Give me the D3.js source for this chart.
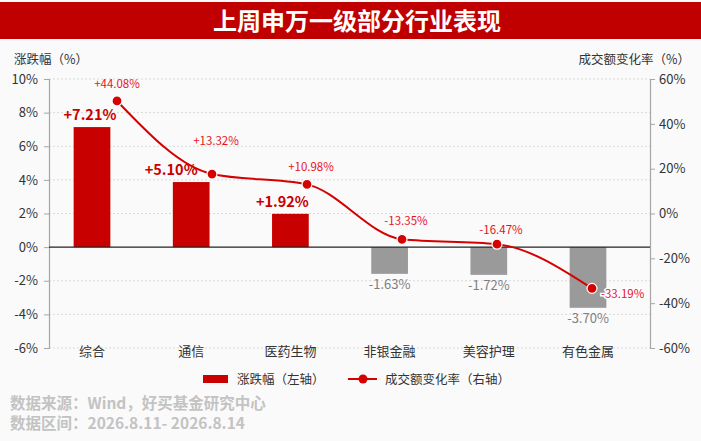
<!DOCTYPE html>
<html>
<head>
<meta charset="utf-8">
<script src="https://cdn.jsdelivr.net/npm/d3@7"></script>
<style>
  html, body { margin: 0; padding: 0; background: #fafafa; }
  svg { display: block; font-family: "Noto Sans CJK SC", "Noto Sans", sans-serif; }
</style>
</head>
<body>
<div id="chart"></div>
<script>
// 行业与数据
const categories = ["综合", "通信", "医药生物", "非银金融", "美容护理", "有色金属"];
const barValues = [7.14, 3.87, 1.98, -1.59, -1.65, -3.61];
const barLabels = ["+7.21%", "+5.10%", "+1.92%", "-1.63%", "-1.72%", "-3.70%"];
const rateValues = [50.2, 17.6, 13.0, -11.5, -13.7, -33.4];
const rateLabels = ["+44.08%", "+13.32%", "+10.98%", "-13.35%", "-16.47%", "-33.19%"];
const leftTicks = [-6, -4, -2, 0, 2, 4, 6, 8, 10];
const rightTicks = [-60, -40, -20, 0, 20, 40, 60];

// 尺寸
const width = 701, height = 441;
const plot = { left: 49, right: 650, top: 79, bottom: 348 };
const red = "#c80000";
const lineRed = "#d50000";
const gray = "#9a9a9a";

const svg = d3.select("#chart").append("svg")
  .attr("width", width)
  .attr("height", height);

svg.append("rect").attr("width", width).attr("height", height).attr("fill", "#fafafa");

// 标题栏
svg.append("rect")
  .attr("x", 0).attr("y", 2)
  .attr("width", width).attr("height", 37)
  .attr("fill", "#c00000");
svg.append("text")
  .attr("x", 357).attr("y", 30)
  .attr("text-anchor", "middle")
  .attr("fill", "#fff")
  .attr("font-size", 24)
  .attr("font-weight", 700)
  .text("上周申万一级部分行业表现");

// 比例尺
const x = d3.scaleBand().domain(categories).range([42.4, 637.6]).paddingInner(0.63).paddingOuter(0.315);
const xLine = d3.scalePoint().domain(categories).range([117, 592]);
const yL = d3.scaleLinear().domain([-6, 10]).range([plot.bottom, plot.top]);
const yR = d3.scaleLinear().domain([-60, 60]).range([plot.bottom, plot.top]);

// 网格线
svg.append("g")
  .selectAll("line")
  .data(leftTicks.filter(d => d !== 0))
  .enter().append("line")
  .attr("x1", plot.left).attr("x2", plot.right)
  .attr("y1", d => yL(d)).attr("y2", d => yL(d))
  .attr("stroke", "#d9d9d9")
  .attr("stroke-dasharray", "2,2");

// 左轴
const axisL = svg.append("g")
  .attr("transform", `translate(${plot.left},0)`)
  .call(d3.axisLeft(yL).tickValues(leftTicks).tickSize(5).tickPadding(6).tickFormat(d => d + "%"));
// 右轴
const axisR = svg.append("g")
  .attr("transform", `translate(${plot.right},0)`)
  .call(d3.axisRight(yR).tickValues(rightTicks).tickSize(5).tickPadding(4).tickFormat(d => d + "%"));

[axisL, axisR].forEach(a => {
  a.select(".domain").attr("stroke", "#a6a6a6").attr("stroke-width", 1.2);
  a.selectAll(".tick line").attr("stroke", "#a6a6a6");
  a.selectAll(".tick text")
    .attr("fill", "#333")
    .attr("font-size", 13)
    .attr("font-family", "'Noto Sans CJK SC', sans-serif");
});

// 轴标题
svg.append("text")
  .attr("x", 14).attr("y", 64)
  .attr("font-size", 12.5).attr("fill", "#333")
  .text("涨跌幅（%）");
svg.append("text")
  .attr("x", 690).attr("y", 64)
  .attr("text-anchor", "end")
  .attr("font-size", 12.5).attr("fill", "#333")
  .text("成交额变化率（%）");

// 柱子
svg.append("g")
  .selectAll("rect")
  .data(barValues)
  .enter().append("rect")
  .attr("x", (d, i) => x(categories[i]))
  .attr("width", x.bandwidth())
  .attr("y", d => yL(Math.max(0, d)))
  .attr("height", d => Math.abs(yL(d) - yL(0)))
  .attr("fill", d => d >= 0 ? red : gray);

// 零线
svg.append("line")
  .attr("x1", plot.left).attr("x2", plot.right)
  .attr("y1", yL(0)).attr("y2", yL(0))
  .attr("stroke", "#222")
  .attr("stroke-width", 1.4);

// 柱子标签（略向左避开折线）
const barLabelDx = [-2, -20, -8, 0, 0, 0];
svg.append("g")
  .selectAll("text")
  .data(barValues)
  .enter().append("text")
  .attr("x", (d, i) => x(categories[i]) + x.bandwidth() / 2 + barLabelDx[i])
  .attr("y", d => d >= 0 ? yL(d) - 7 : yL(d) + 15)
  .attr("text-anchor", "middle")
  .attr("font-size", d => d >= 0 ? 14.5 : 13)
  .attr("font-weight", d => d >= 0 ? 600 : 400)
  .attr("fill", d => d >= 0 ? red : "#7f7f7f")
  .text((d, i) => barLabels[i]);

// 类别标签
svg.append("g")
  .selectAll("text")
  .data(categories)
  .enter().append("text")
  .attr("x", d => x(d) + x.bandwidth() / 2)
  .attr("y", 356)
  .attr("text-anchor", "middle")
  .attr("font-size", 13)
  .attr("fill", "#333")
  .text(d => d);

// 折线
const line = d3.line()
  .x((d, i) => xLine(categories[i]))
  .y(d => yR(d))
  .curve(d3.curveMonotoneX);

svg.append("path")
  .datum(rateValues)
  .attr("d", line)
  .attr("fill", "none")
  .attr("stroke", lineRed)
  .attr("stroke-width", 2);

svg.append("g")
  .selectAll("circle")
  .data(rateValues)
  .enter().append("circle")
  .attr("cx", (d, i) => xLine(categories[i]))
  .attr("cy", d => yR(d))
  .attr("r", 5)
  .attr("fill", lineRed)
  .attr("stroke", "#fff")
  .attr("stroke-width", 1.2);

// 折线标签（最后一个放在点右侧）
const labelDy = [-13, -29, -13, -14, -10, 10];
svg.append("g")
  .selectAll("text")
  .data(rateValues)
  .enter().append("text")
  .attr("x", (d, i) => i === rateValues.length - 1 ? xLine(categories[i]) + 9 : xLine(categories[i]) + (i ? 4 : 0))
  .attr("y", (d, i) => yR(d) + labelDy[i])
  .attr("text-anchor", (d, i) => i === rateValues.length - 1 ? "start" : "middle")
  .attr("font-size", 11.5)
  .attr("fill", "#e8141c")
  .attr("stroke", "#fff")
  .attr("stroke-width", (d, i) => i === rateValues.length - 1 ? 3 : 0)
  .attr("paint-order", "stroke")
  .text((d, i) => rateLabels[i]);

// 图例
const legend = svg.append("g");
legend.append("rect")
  .attr("x", 203).attr("y", 375)
  .attr("width", 25).attr("height", 8)
  .attr("fill", red);
legend.append("text")
  .attr("x", 237).attr("y", 384)
  .attr("font-size", 12.5).attr("fill", "#333")
  .text("涨跌幅（左轴）");
legend.append("line")
  .attr("x1", 348).attr("x2", 377)
  .attr("y1", 379).attr("y2", 379)
  .attr("stroke", lineRed).attr("stroke-width", 2);
legend.append("circle")
  .attr("cx", 363).attr("cy", 379).attr("r", 4.5)
  .attr("fill", lineRed);
legend.append("text")
  .attr("x", 385).attr("y", 384)
  .attr("font-size", 12.5).attr("fill", "#333")
  .text("成交额变化率（右轴）");

// 数据来源
svg.append("text")
  .attr("x", 10).attr("y", 409)
  .attr("font-size", 15.5).attr("font-weight", 700).attr("fill", "#c3c3c3")
  .text("数据来源：Wind，好买基金研究中心");
svg.append("text")
  .attr("x", 10).attr("y", 429)
  .attr("font-size", 15.5).attr("font-weight", 700).attr("fill", "#c3c3c3")
  .text("数据区间：2026.8.11- 2026.8.14");
</script>
</body>
</html>
